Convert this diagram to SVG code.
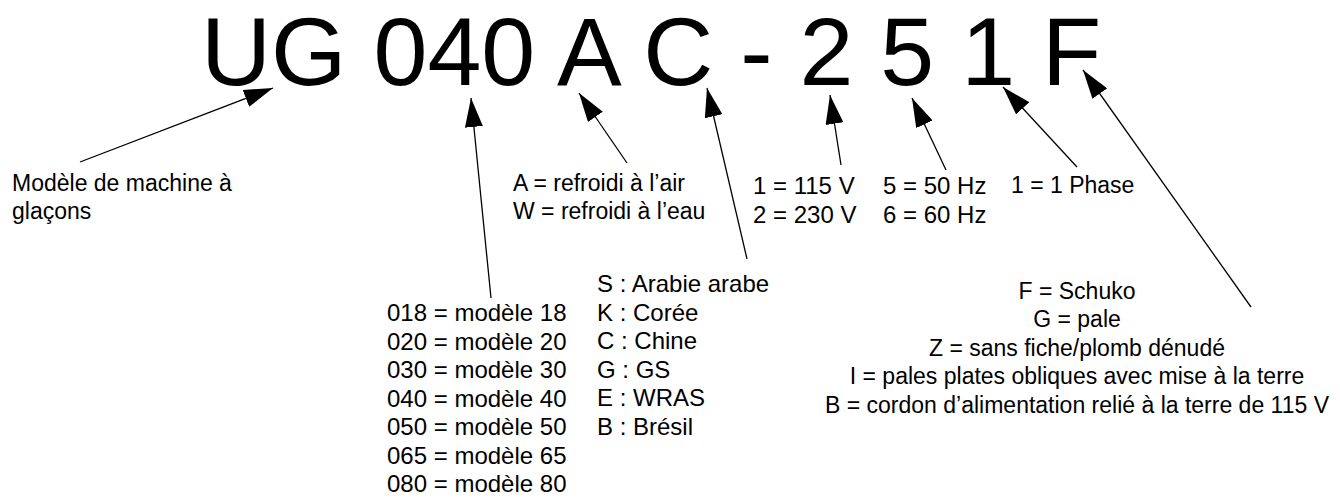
<svg xmlns="http://www.w3.org/2000/svg" width="1340" height="500" viewBox="0 0 1340 500">
<style>
text{font-family:"Liberation Sans",Arial,sans-serif;fill:#000}
.t{font-size:23px}
.m{font-size:24px}
.big{font-size:97px}
.c{text-anchor:middle}
.conn line{stroke:#000;stroke-width:1.3;fill:none;marker-end:url(#ah)}
</style>
<defs>
<marker id="ah" markerWidth="29" markerHeight="18" refX="29" refY="9" orient="auto" markerUnits="userSpaceOnUse">
<path d="M0,0 L29,9 L0,18 z" fill="#000"/>
</marker>
</defs>
<rect width="1340" height="500" fill="#fff"/>
<g id="code"><text class="big" x="201" y="85">UG 040 A C - 2 5 1 F</text></g>
<g id="model"><text class="t" x="12" y="191">Modèle de machine à</text><text class="t" x="12" y="219">glaçons</text></g>
<g id="size">
<text class="m" x="387" y="321">018 = modèle 18</text>
<text class="m" x="387" y="350">020 = modèle 20</text>
<text class="m" x="387" y="378">030 = modèle 30</text>
<text class="m" x="387" y="407">040 = modèle 40</text>
<text class="m" x="387" y="435">050 = modèle 50</text>
<text class="m" x="387" y="464">065 = modèle 65</text>
<text class="m" x="387" y="492">080 = modèle 80</text>
</g>
<g id="cooling"><text class="t" x="513" y="191">A = refroidi à l’air</text><text class="t" x="513" y="219">W = refroidi à l’eau</text></g>
<g id="country">
<text class="m" x="597" y="292">S : Arabie arabe</text>
<text class="m" x="597" y="321">K : Corée</text>
<text class="m" x="597" y="349">C : Chine</text>
<text class="m" x="597" y="378">G : GS</text>
<text class="m" x="597" y="406">E : WRAS</text>
<text class="m" x="597" y="435">B : Brésil</text>
</g>
<g id="voltage"><text class="m" x="753" y="194">1 = 115 V</text><text class="m" x="753" y="223">2 = 230 V</text></g>
<g id="freq"><text class="m" x="883" y="194">5 = 50 Hz</text><text class="m" x="883" y="223">6 = 60 Hz</text></g>
<g id="phase"><text class="t" x="1011" y="193">1 = 1 Phase</text></g>
<g id="plug">
<text class="t c" x="1077" y="299">F = Schuko</text>
<text class="t c" x="1077" y="327">G = pale</text>
<text class="t c" x="1077" y="356">Z = sans fiche/plomb dénudé</text>
<text class="t c" x="1077" y="384">I = pales plates obliques avec mise à la terre</text>
<text class="t c" x="1077" y="413">B = cordon d’alimentation relié à la terre de 115 V</text>
</g>
<g id="connectors" class="conn">
<line x1="80" y1="162" x2="273" y2="88"/>
<line x1="491" y1="298" x2="471" y2="98"/>
<line x1="627" y1="163" x2="579" y2="93"/>
<line x1="747" y1="259" x2="707" y2="88"/>
<line x1="841" y1="165" x2="830" y2="95"/>
<line x1="946" y1="170" x2="912" y2="98"/>
<line x1="1077" y1="167" x2="1003" y2="87"/>
<line x1="1251" y1="307" x2="1083" y2="70"/>
</g>
</svg>
